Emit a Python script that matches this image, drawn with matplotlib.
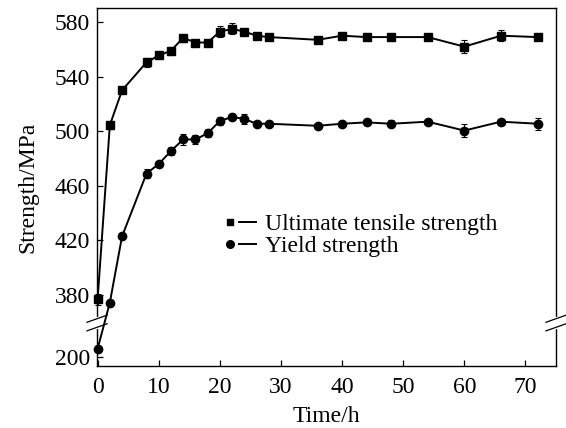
import numpy as np
import matplotlib
matplotlib.use("Agg")
import matplotlib.pyplot as plt
from matplotlib.lines import Line2D
from matplotlib.legend_handler import HandlerTuple

# data
time_h = [0, 2, 4, 8, 10, 12, 14, 16, 18, 20, 22, 24, 26, 28, 36, 40, 44, 48, 54, 60, 66, 72]
uts = [377, 504.5, 530, 550.5, 555.5, 559, 568.5, 565, 565, 573, 575, 573, 570, 569,
       567, 570, 569, 569, 569, 562, 570, 569]
uts_err = [4, 3, 1.5, 3.5, 2, 3, 3, 2, 2, 4, 4, 2, 2, 2,
           2, 1.5, 2.5, 2, 2, 4.5, 4, 2.5]
ys = [206, 374.5, 423, 469, 476, 485.5, 494, 494, 498.5, 507.5, 510.5, 509, 505.5, 505.5,
      504, 505.5, 506.5, 505.5, 507, 500.5, 507, 505.5]
ys_err = [2, 2, 1.5, 3, 2, 3, 4, 3, 3, 3, 2, 4, 1.5, 1.5,
          1.5, 1.5, 1.5, 2.5, 1.5, 4.5, 2, 4.5]

y_ticks = [200, 380, 420, 460, 500, 540, 580]
x_ticks = [0, 10, 20, 30, 40, 50, 60, 70]

# broken axis: squeeze the empty range 220..360 into a few units
LO, HI, SHIFT = 220.0, 360.0, 134.6
GAP = HI - (LO + SHIFT)


def fwd(y):
    y = np.asarray(y, dtype=float)
    return np.where(y < LO, y + SHIFT,
                    np.where(y < HI, LO + SHIFT + (y - LO) * GAP / (HI - LO), y))


def inv(v):
    v = np.asarray(v, dtype=float)
    return np.where(v < LO + SHIFT, v - SHIFT,
                    np.where(v < HI, LO + (v - LO - SHIFT) * (HI - LO) / GAP, v))


plt.rcParams['font.family'] = ['Liberation Serif', 'DejaVu Serif']
plt.rcParams['font.size'] = 17

fig = plt.figure(figsize=(5.66, 4.28), dpi=100)
ax = fig.add_axes([0.1714, 0.1449, 0.8109, 0.8364])
ax.set_yscale('function', functions=(fwd, inv))

ax.errorbar(time_h, uts, yerr=uts_err, color='black', marker='s', markersize=5.5,
            linewidth=1.4, elinewidth=0.8, capsize=2.5, capthick=0.8, clip_on=False, zorder=3)
ax.errorbar(time_h, ys, yerr=ys_err, color='black', marker='o', markersize=6,
            linewidth=1.4, elinewidth=0.8, capsize=2.5, capthick=0.8, clip_on=False, zorder=3)

ax.set_xlim(-0.1, 75)
ax.set_ylim(193.4, 590.3)
ax.set_xticks(x_ticks)
ax.set_yticks(y_ticks)
ax.yaxis.set_minor_locator(matplotlib.ticker.NullLocator())
ax.tick_params(direction='in', length=4, width=0.9, top=False, right=False)
ax.tick_params(axis='x', pad=8)
ax.tick_params(axis='y', pad=5)

ax.set_xlabel('Time/h', labelpad=6)
ax.set_ylabel('Strength/MPa', labelpad=12)

for s in ax.spines.values():
    s.set_linewidth(1.0)

# break marks on both side spines
yb = 0.12
for xa in (0.0, 1.0):
    ax.plot([xa, xa], [yb - 0.012, yb + 0.012], color='white', linewidth=3,
            transform=ax.transAxes, clip_on=False, zorder=5)
    for dy in (0.012, -0.012):
        ax.plot([xa - 0.022, xa + 0.022], [yb + dy - 0.01, yb + dy + 0.01], color='black',
                linewidth=0.9, transform=ax.transAxes, clip_on=False, zorder=6)

# legend: marker followed by a short line
sq = Line2D([], [], color='black', marker='s', markersize=5, linestyle='none')
ci = Line2D([], [], color='black', marker='o', markersize=5.5, linestyle='none')
ln = Line2D([], [], color='black', linewidth=1.4)
ax.legend([(sq, ln), (ci, ln)], ['Ultimate tensile strength', 'Yield strength'],
          handler_map={tuple: HandlerTuple(ndivide=None, pad=0)},
          loc='upper left', bbox_to_anchor=(0.272, 0.425), frameon=False,
          handlelength=1.45, handletextpad=0.38, labelspacing=0.0, borderpad=0,
          borderaxespad=0)

fig.savefig('out.png', dpi=100)
